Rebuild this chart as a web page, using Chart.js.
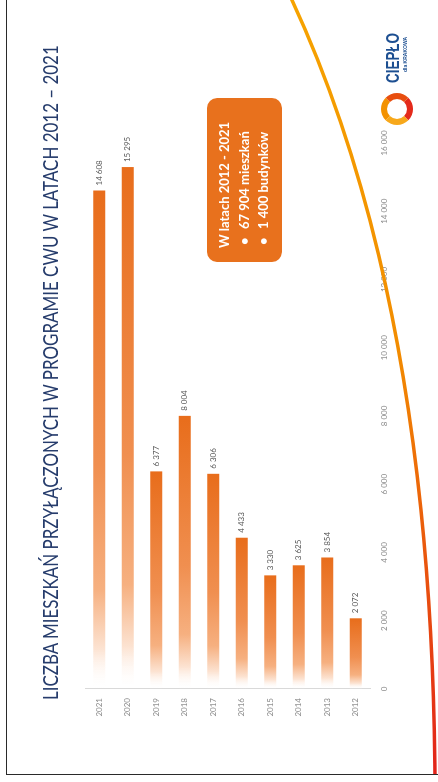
<!DOCTYPE html>
<html>
<head>
<meta charset="utf-8">
<script src="https://cdn.jsdelivr.net/npm/chart.js@4.4.0/dist/chart.umd.min.js"></script>
<style>
  html, body { margin: 0; padding: 0; background: #fff; overflow: hidden; }
  body { width: 438px; height: 782px; position: relative; }
  #slide {
    position: absolute; left: 0; top: 0; width: 800px; height: 440px;
    transform-origin: 0 0; transform: translate(7px, 774px) rotate(-90deg);
  }
  #chart { position: absolute; left: 0; top: 0; }
  #title {
    position: absolute; left: 74px; top: 30px; white-space: nowrap;
    font-family: Lato, sans-serif; font-size: 21px; color: #263c6c;
    transform-origin: 0 50%; line-height: 26px;
  }
  #note {
    position: absolute; left: 512px; top: 200px; width: 164px; height: 75px;
    background: #e8711d; border-radius: 10px; box-sizing: border-box;
    padding: 8px 0 0 14px; color: #fff; font-family: Lato, sans-serif;
    font-weight: bold; font-size: 13px; line-height: 19.5px; white-space: nowrap;
  }
  #note .b { display: inline-block; width: 16px; padding-left: 3px; }
  #ring {
    position: absolute; left: 649px; top: 374px; width: 32px; height: 32px;
    border-radius: 50%; box-sizing: border-box; border: 6px solid;
    border-color: #f39200 #e84e0f #e42a1b #f7a81b;
  }
  #brand {
    position: absolute; left: 691px; top: 378px; font-family: "Liberation Sans", Arial, sans-serif;
    font-weight: bold; font-size: 18px; color: #1d4f91; line-height: 16px;
    transform-origin: 0 0; white-space: nowrap;
  }
  #brand2 {
    position: absolute; left: 702px; top: 395px; font-family: "Liberation Sans", sans-serif;
    font-weight: bold; font-size: 5px; color: #1d4f91; white-space: nowrap;
  }
  #frame {
    position: absolute; left: 6px; top: 0; width: 460px; height: 775px;
    border-left: 1.5px solid #2a2a2a; border-bottom: 1.5px solid #2a2a2a; box-sizing: border-box;
  }
  #arc { position: absolute; left: 0; top: 0; }
</style>
</head>
<body>
<div id="slide">
  <canvas id="chart" width="800" height="440"></canvas>
  <div id="title">LICZBA MIESZKAŃ PRZYŁĄCZONYCH W PROGRAMIE CWU W LATACH 2012 – 2021</div>
  <div id="note">W latach 2012 - 2021<br><span class="b">•</span>67 904 mieszkań<br><span class="b">•</span>1 400 budynków</div>
  <div id="ring"></div>
  <div id="brand">CIEPŁO</div>
  <div id="brand2">dla KRAKOWA</div>
</div>
<svg id="arc" width="438" height="774">
  <defs>
    <linearGradient id="arcGrad" gradientUnits="userSpaceOnUse" x1="0" y1="0" x2="0" y2="774">
      <stop offset="0" stop-color="#f6a300"/>
      <stop offset="0.45" stop-color="#f28c00"/>
      <stop offset="0.7" stop-color="#ea5a0c"/>
      <stop offset="1" stop-color="#e2231a"/>
    </linearGradient>
  </defs>
  <path d="M 291 -2 Q 432 300 435 780" fill="none" stroke="url(#arcGrad)" stroke-width="3.5"/>
</svg>
<div id="frame"></div>
<script>
const years = ['2021', '2020', '2019', '2018', '2017', '2016', '2015', '2014', '2013', '2012'];
const flats = [14608, 15295, 6377, 8004, 6306, 4433, 3330, 3625, 3854, 2072];
const axisMax = 16000;
const axisStep = 2000;

function fmt(n) {
  return String(n).replace(/\B(?=(\d{3})+(?!\d))/g, ' ');
}

// fit title and brand widths to the slide
const title = document.getElementById('title');
title.style.transform = 'scaleX(' + (655 / title.offsetWidth) + ')';
const brand = document.getElementById('brand');
brand.style.transform = 'scaleX(' + (50 / brand.offsetWidth) + ')';

// each bar fades from its base to full orange at its end
function barFill(context) {
  const chart = context.chart;
  if (!chart.chartArea || context.type !== 'data') return '#e8711d';
  const x = chart.scales.x;
  const x0 = x.getPixelForValue(0);
  const x1 = x.getPixelForValue(context.raw);
  const g = chart.ctx.createLinearGradient(x0, 0, x1, 0);
  g.addColorStop(0, 'rgba(255,255,255,0)');
  g.addColorStop(0.08, '#fce3d2');
  g.addColorStop(0.2, '#f6b080');
  g.addColorStop(0.45, '#f08f50');
  g.addColorStop(1, '#e86d1b');
  return g;
}

const valueLabels = {
  id: 'valueLabels',
  afterDatasetsDraw(chart) {
    const ctx = chart.ctx;
    const meta = chart.getDatasetMeta(0);
    ctx.save();
    ctx.font = '8px Lato';
    ctx.fillStyle = '#595959';
    ctx.textAlign = 'left';
    ctx.textBaseline = 'middle';
    meta.data.forEach((bar, i) => {
      ctx.fillText(fmt(flats[i]), bar.x + 5, bar.y);
    });
    ctx.restore();
  }
};

new Chart(document.getElementById('chart'), {
  type: 'bar',
  data: {
    labels: years,
    datasets: [{
      data: flats,
      backgroundColor: barFill,
      borderWidth: 0,
      barPercentage: 0.42,
      categoryPercentage: 1
    }]
  },
  options: {
    indexAxis: 'y',
    responsive: false,
    animation: false,
    devicePixelRatio: 1,
    layout: { padding: { left: 55, right: 169, top: 78, bottom: 47 } },
    plugins: {
      legend: { display: false },
      tooltip: { enabled: false }
    },
    scales: {
      x: {
        min: 0,
        max: axisMax,
        grid: { display: false, drawTicks: false },
        border: { display: false },
        ticks: {
          stepSize: axisStep,
          maxRotation: 0,
          padding: 10,
          color: '#8a8a8a',
          font: { family: 'Lato', size: 8 },
          callback: (v) => fmt(v)
        },
        afterFit(axis) {
          axis.height = 30;
          axis.paddingLeft = 0;
          axis.paddingRight = 0;
        }
      },
      y: {
        grid: { display: false, drawTicks: false },
        border: { display: true, color: '#d9d9d9', width: 1 },
        ticks: {
          padding: 9,
          color: '#8a8a8a',
          font: { family: 'Lato', size: 8 }
        },
        afterFit(axis) {
          axis.width = 30;
          axis.paddingTop = 0;
          axis.paddingBottom = 0;
        }
      }
    }
  },
  plugins: [valueLabels]
});
</script>
</body>
</html>
